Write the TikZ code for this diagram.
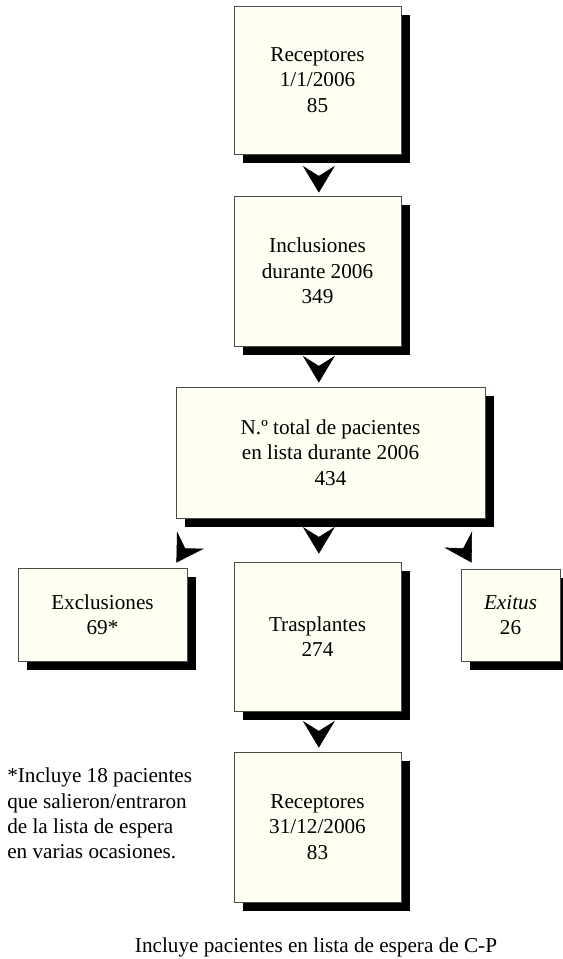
\documentclass[tikz,border=0pt]{standalone}
\usepackage{fontspec}
\setmainfont{Liberation Serif}
\usetikzlibrary{arrows.meta,shadows}
\definecolor{cream}{RGB}{255,255,242}
\tikzset{
	box/.style = {
		draw=black!70, line width=0.6pt, fill=cream, align=center, inner sep=0pt,
		font=\fontsize{15.9}{19}\selectfont,
		drop shadow={shadow xshift=6.75pt, shadow yshift=-6.75pt, fill=black, opacity=1}
	},
	head/.style = {tips, black, -{Stealth[length=20pt, width=24pt, inset=7.5pt]}},
	note/.style = {align=left, inner sep=0pt, font=\fontsize{15.9}{19}\selectfont}
}

\begin{document}
\begin{tikzpicture}[x=0.75pt, y=-0.75pt]
		\useasboundingbox (0, 0) rectangle (563, 959);
		\node [box, minimum width=125.25pt, minimum height=111pt] (rec1) at (317.5, 80) {Receptores\\1/1/2006\\85};
		\node [box, minimum width=125.25pt, minimum height=112.5pt] (incl) at (317.5, 271) {Inclusiones\\durante 2006\\349};
		\node [box, minimum width=231.75pt, minimum height=98.25pt] (total) at (330.5, 452.5) {N.º total de pacientes\\en lista durante 2006\\434};
		\node [box, minimum width=126.75pt, minimum height=69.75pt] (excl) at (102.5, 614.5) {Exclusiones\\69*};
		\node [box, minimum width=125.25pt, minimum height=111.75pt] (trasp) at (317.5, 636.5) {Trasplantes\\274};
		\node [box, minimum width=74.25pt, minimum height=69pt] (exitus) at (510.5, 615) {\textit{Exitus}\\26};
		\node [box, minimum width=125.25pt, minimum height=112.5pt] (rec2) at (317.5, 827) {Receptores\\31/12/2006\\83};
		\path [head] ([xshift=1pt]rec1.south) -- ([xshift=1pt, yshift=2.25pt]incl.north);
		\path [head] ([xshift=1pt]incl.south) -- ([xshift=1pt, yshift=3pt]incl.south |- total.north);
		\path [head] ([xshift=1pt]trasp.north |- total.south) -- ([xshift=1pt, yshift=6pt]trasp.north);
		\path [head] ([xshift=1pt]trasp.south) -- ([xshift=1pt, yshift=3pt]rec2.north);
		\path [head] ([xshift=15.75pt, yshift=-9pt]total.south west) -- ([xshift=-8.25pt, yshift=3.75pt]excl.north east);
		\path [head] ([xshift=-24.4pt, yshift=-9pt]total.south east) -- ([xshift=8.25pt, yshift=4.5pt]exitus.north west);
		\node [note, anchor=north west] (foot) at (7, 768) {*Incluye 18 pacientes\\que salieron/entraron\\de la lista de espera\\en varias ocasiones.};
		\node [note] (cp) at (316, 947) {Incluye pacientes en lista de espera de C-P};
	\end{tikzpicture}
\end{document}
